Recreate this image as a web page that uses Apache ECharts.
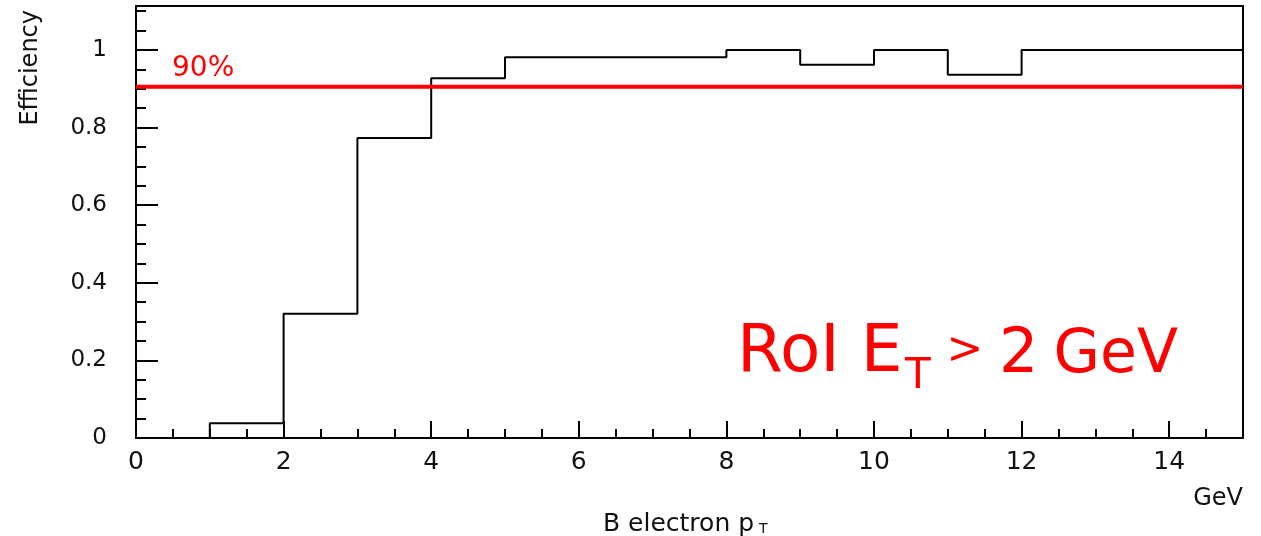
<!DOCTYPE html>
<html>
<head>
<meta charset="utf-8">
<script src="https://cdn.jsdelivr.net/npm/echarts@6/dist/echarts.min.js"></script>
<style>
html,body{margin:0;padding:0;background:#fff;}
#chart{width:1261px;height:536px;}
</style>
</head>
<body>
<div id="chart"></div>
<script>
// ---- data ----
var binEdges = [0, 1, 2, 3, 4, 5, 6, 7, 8, 9, 10, 11, 12, 13, 14, 15];
var efficiency = [0, 0.038, 0.32, 0.773, 0.927, 0.981, 0.981, 0.981, 1.0, 0.962, 1.0, 0.936, 1.0, 1.0, 1.0];
var thresholdLevel = 0.905;
var xMajorTicks = [0, 2, 4, 6, 8, 10, 12, 14];
var xMinorTicks = [0.5, 1, 1.5, 2.5, 3, 3.5, 4.5, 5, 5.5, 6.5, 7, 7.5, 8.5, 9, 9.5, 10.5, 11, 11.5, 12.5, 13, 13.5, 14.5];
var yMajorTicks = [0, 0.2, 0.4, 0.6, 0.8, 1.0];
var yMinorTicks = [0.05, 0.1, 0.15, 0.25, 0.3, 0.35, 0.45, 0.5, 0.55, 0.65, 0.7, 0.75, 0.85, 0.9, 0.95, 1.05, 1.1];
var xRange = [0, 15];
var yRange = [0, 1.1134];

// build step data: value of bin i starts at edge i
var histData = [];
for (var i = 0; i < efficiency.length; i++) {
  histData.push([binEdges[i], efficiency[i]]);
}
histData.push([binEdges[binEdges.length - 1], efficiency[efficiency.length - 1]]);

var chart = echarts.init(document.getElementById('chart'), null, {renderer: 'canvas'});
var labelFont = 'DejaVu Sans';
function fmt(v) { return v === 0 ? '0' : String(Math.round(v * 10) / 10); }
function txt(x, y, s, size, color, align, rot) {
  var o = {type: 'text', x: x, y: y,
    style: {text: s, fill: color, font: size + 'px "DejaVu Sans"', align: align || 'left', verticalAlign: 'middle'}};
  if (rot) o.rotation = rot;
  return o;
}

var option = {
  animation: false,
  backgroundColor: '#ffffff',
  grid: {
    left: 136, right: 18, top: 6, bottom: 98,
    show: true, borderColor: '#000', borderWidth: 2, backgroundColor: 'transparent'
  },
  xAxis: [{
    type: 'value', min: xRange[0], max: xRange[1], position: 'bottom',
    axisLine: {show: true, onZero: false, lineStyle: {color: '#000', width: 2}},
    axisTick: {show: true, inside: true, length: 17, customValues: xMajorTicks, lineStyle: {color: '#000', width: 2}},
    axisLabel: {show: true, customValues: xMajorTicks, margin: 12, color: '#111', fontFamily: labelFont, fontSize: 25, formatter: fmt},
    splitLine: {show: false}
  }, {
    type: 'value', min: xRange[0], max: xRange[1], position: 'bottom',
    axisLine: {show: false, onZero: false},
    axisTick: {show: true, inside: true, length: 9, customValues: xMinorTicks, lineStyle: {color: '#000', width: 2}},
    axisLabel: {show: false},
    splitLine: {show: false}
  }],
  yAxis: [{
    type: 'value', min: yRange[0], max: yRange[1], position: 'left',
    axisLine: {show: true, onZero: false, lineStyle: {color: '#000', width: 2}},
    axisTick: {show: true, inside: true, length: 22, customValues: yMajorTicks, lineStyle: {color: '#000', width: 2}},
    axisLabel: {show: true, customValues: yMajorTicks, margin: 29, color: '#111', fontFamily: labelFont, fontSize: 23, formatter: fmt},
    splitLine: {show: false}
  }, {
    type: 'value', min: yRange[0], max: yRange[1], position: 'left',
    axisLine: {show: false, onZero: false},
    axisTick: {show: true, inside: true, length: 10, customValues: yMinorTicks, lineStyle: {color: '#000', width: 2}},
    axisLabel: {show: false},
    splitLine: {show: false}
  }],
  series: [{
    type: 'line', xAxisIndex: 0, yAxisIndex: 0,
    step: 'end', symbol: 'none', data: histData,
    lineStyle: {color: '#000', width: 2}, z: 3
  }, {
    type: 'line', xAxisIndex: 0, yAxisIndex: 0,
    symbol: 'none', data: [[xRange[0], thresholdLevel], [xRange[1], thresholdLevel]],
    lineStyle: {color: '#ff0000', width: 4}, z: 4
  }],
  graphic: [
    txt(172, 69, '90%', 28, '#ff0000'),
    txt(31, 10, 'Efficiency', 24, '#111', 'right', Math.PI / 2),
    txt(603, 524, 'B electron p', 25, '#111'),
    txt(759, 529, 'T', 14, '#111'),
    txt(1243, 499, 'GeV', 24, '#111', 'right'),
    txt(737, 354, 'RoI E', 66, '#ff0000'),
    txt(905, 377, 'T', 42, '#ff0000'),
    txt(965, 352, '>', 44, '#ff0000', 'center'),
    txt(999, 356, '2', 62, '#ff0000'),
    txt(1178, 356, 'GeV', 60, '#ff0000', 'right')
  ]
};
chart.setOption(option);
</script>
</body>
</html>
